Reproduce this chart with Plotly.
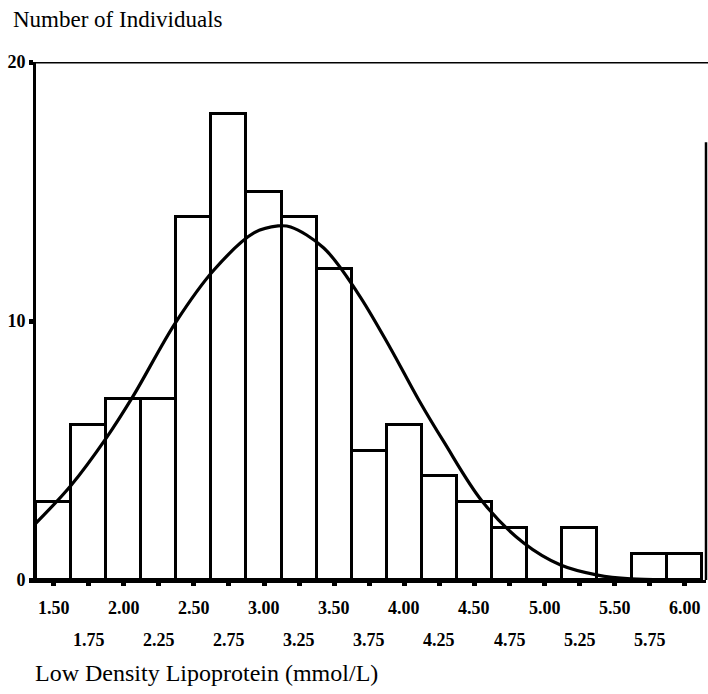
import plotly.graph_objects as go

# Histogram of LDL cholesterol: bin centres (mmol/L) and counts
bin_centers = [1.50, 1.75, 2.00, 2.25, 2.50, 2.75, 3.00, 3.25, 3.50, 3.75,
               4.00, 4.25, 4.50, 4.75, 5.00, 5.25, 5.50, 5.75, 6.00]
counts = [3, 6, 7, 7, 14, 18, 15, 14, 12, 5, 6, 4, 3, 2, 0, 2, 0, 1, 1]

# Fitted normal curve, sampled points
curve_x = [1.375, 1.624, 1.874, 2.066, 2.372, 2.643, 2.928, 3.10, 3.19, 3.426,
           3.668, 3.90, 4.103, 4.28, 4.559, 4.851, 5.114, 5.378, 5.613, 5.90, 6.10]
curve_y = [2.2, 3.65, 5.47, 7.09, 9.96, 11.97, 13.4, 13.67, 13.63, 12.82,
           11.08, 8.96, 6.95, 5.35, 3.01, 1.43, 0.58, 0.19, 0.04, 0.0, 0.0]

# Axis tick values and labels
x_ticks = bin_centers
upper_labels = ["1.50", "2.00", "2.50", "3.00", "3.50", "4.00", "4.50", "5.00", "5.50", "6.00"]
lower_labels = ["1.75", "2.25", "2.75", "3.25", "3.75", "4.25", "4.75", "5.25", "5.75"]
y_ticks = [0, 10, 20]

FONT = "Liberation Serif, Times New Roman, serif"

W, H = 708, 694
L, R, T, B = 36, 2, 62, 114
plot_w = W - L - R
plot_h = H - T - B


def px_to_paper_x(px):
    return (px - L) / plot_w


def py_to_paper_y(py):
    return (H - B - py) / plot_h


fig = go.Figure()

fig.add_trace(go.Bar(
    x=bin_centers, y=counts, width=0.25,
    marker=dict(color="white", line=dict(color="black", width=3)),
    hoverinfo="x+y",
))

fig.add_trace(go.Scatter(
    x=curve_x, y=curve_y, mode="lines",
    line=dict(color="black", width=3.2, shape="spline", smoothing=1.0),
))

# Staggered x tick labels (two rows)
upper_vals = bin_centers[0::2]
lower_vals = bin_centers[1::2]
for v, t in zip(upper_vals, upper_labels):
    fig.add_annotation(x=v, y=py_to_paper_y(608), xref="x", yref="paper", text=t,
                       showarrow=False, xanchor="center", yanchor="middle",
                       font=dict(family=FONT, size=18, color="black", weight="bold"))
for v, t in zip(lower_vals, lower_labels):
    fig.add_annotation(x=v, y=py_to_paper_y(640), xref="x", yref="paper", text=t,
                       showarrow=False, xanchor="center", yanchor="middle",
                       font=dict(family=FONT, size=18, color="black", weight="bold"))

# Axis titles
fig.add_annotation(x=px_to_paper_x(11), y=py_to_paper_y(20), xref="paper", yref="paper",
                   text="Number of Individuals", showarrow=False,
                   xanchor="left", yanchor="middle",
                   font=dict(family=FONT, size=23, color="black"))
fig.add_annotation(x=px_to_paper_x(33), y=py_to_paper_y(673), xref="paper", yref="paper",
                   text="Low Density Lipoprotein (mmol/L)", showarrow=False,
                   xanchor="left", yanchor="middle",
                   font=dict(family=FONT, size=24, color="black"))

# Frame: top line and right border
fig.add_shape(type="line", xref="paper", yref="y", x0=0, x1=1.01, y0=20, y1=20,
              line=dict(color="black", width=3))
fig.add_shape(type="line", xref="paper", yref="y", x0=1.0, x1=1.0, y0=0, y1=16.9,
              line=dict(color="black", width=2.5))

fig.update_layout(
    width=W, height=H,
    margin=dict(l=L, r=R, t=T, b=B),
    plot_bgcolor="white", paper_bgcolor="white",
    showlegend=False, bargap=0,
    font=dict(family=FONT, color="black"),
    xaxis=dict(range=[1.375, 6.15], tickvals=x_ticks, ticktext=[""] * len(x_ticks),
               ticks="outside", ticklen=3, tickwidth=5, tickcolor="black",
               showline=True, linecolor="black", linewidth=3,
               showgrid=False, zeroline=False),
    yaxis=dict(range=[0, 20], tickvals=y_ticks, ticktext=["0", "10", "20"],
               ticks="outside", ticklen=4, tickwidth=5, tickcolor="black",
               tickfont=dict(family=FONT, size=18, color="black", weight="bold"),
               showline=True, linecolor="black", linewidth=3,
               showgrid=False, zeroline=False),
)

fig.write_html("out.html")
